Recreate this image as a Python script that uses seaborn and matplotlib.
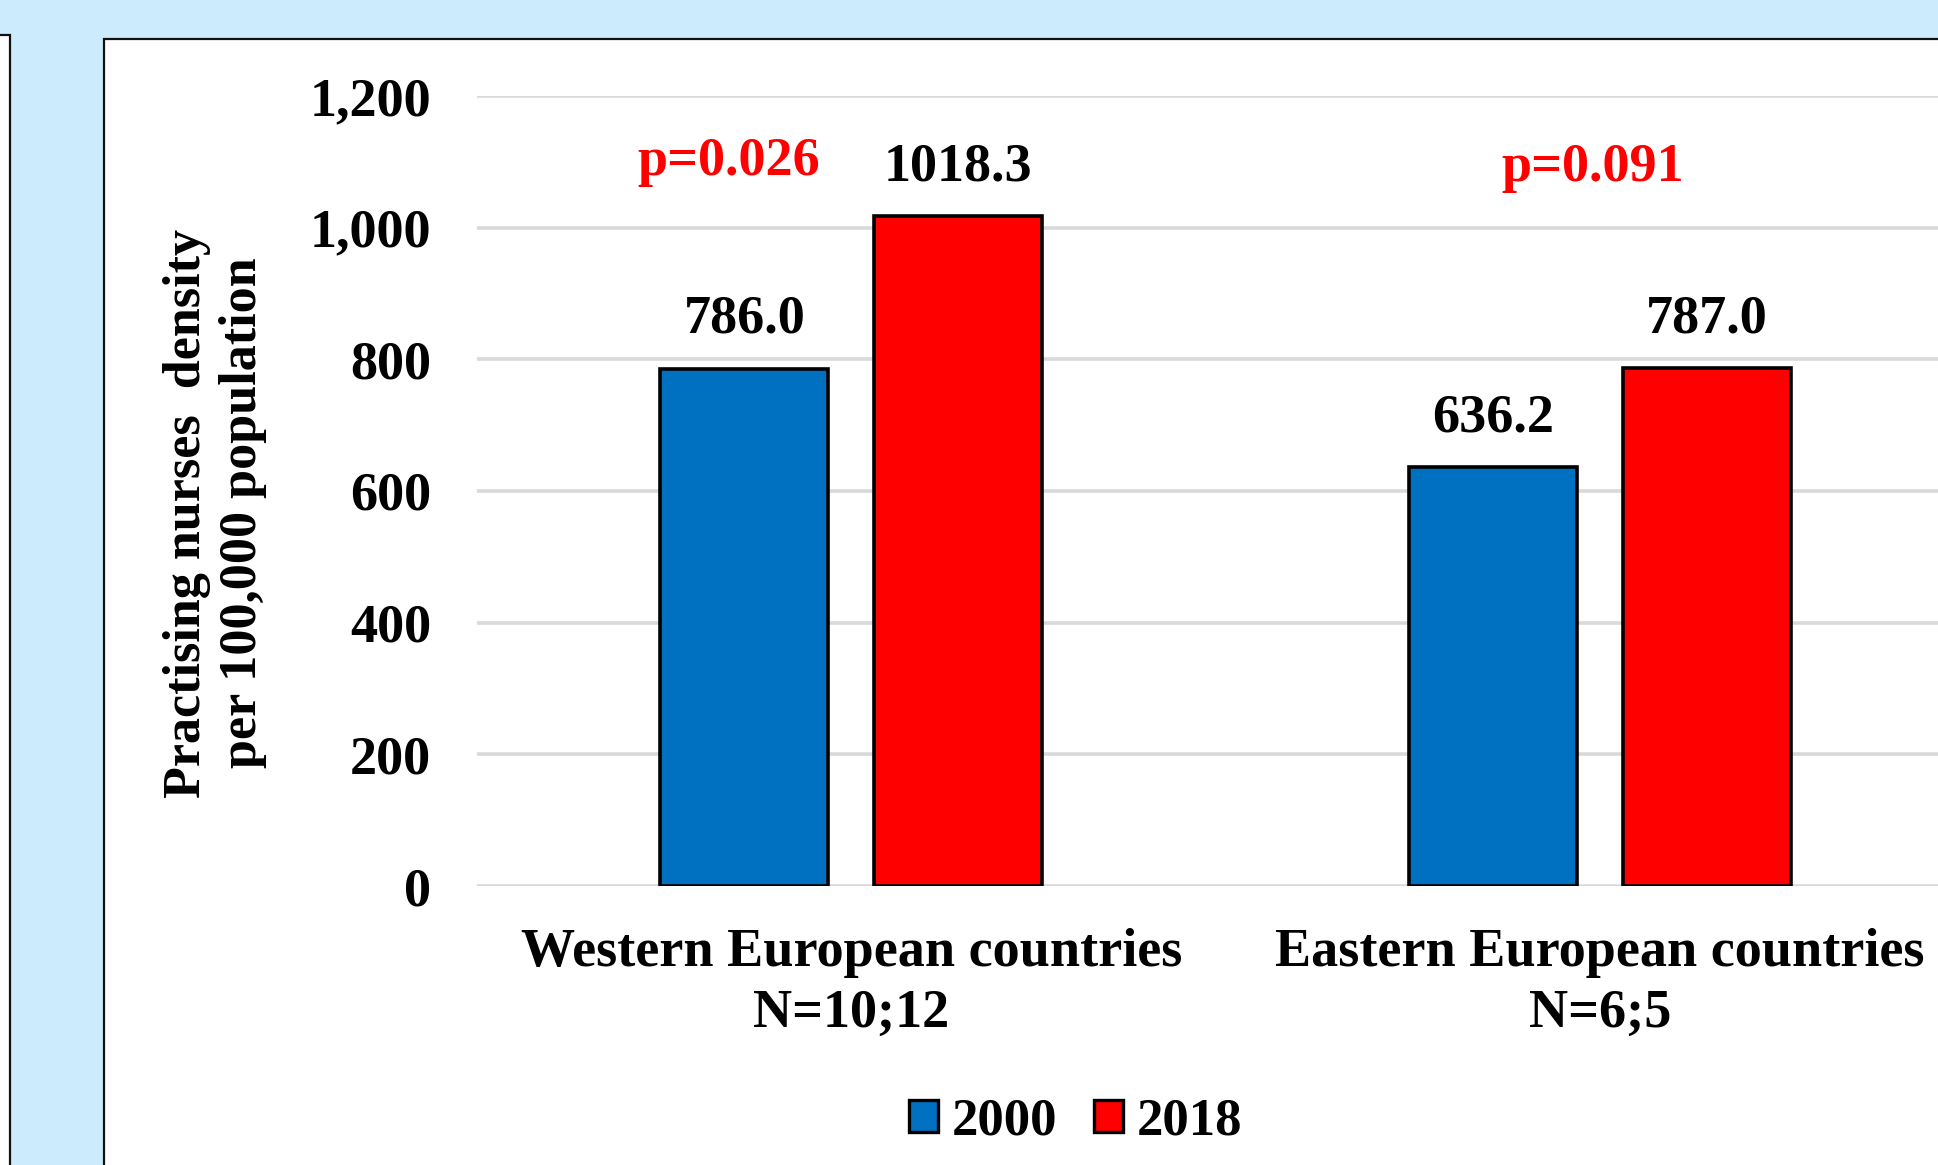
import numpy as np
import pandas as pd
import matplotlib
matplotlib.use("Agg")
import matplotlib.pyplot as plt
from matplotlib.patches import Rectangle, Patch
from matplotlib.ticker import FuncFormatter
import seaborn as sns

# ---- data ----
regions = ["Western European countries", "Eastern European countries"]
n_labels = ["N=10;12", "N=6;5"]
years = ["2000", "2018"]
values_2000 = [786.0, 636.2]
values_2018 = [1018.3, 787.0]
p_values = ["p=0.026", "p=0.091"]
y_ticks = [0, 200, 400, 600, 800, 1000, 1200]

colors = {"2000": "#0070C0", "2018": "#FF0000"}

df = pd.DataFrame({
    "region": regions * 2,
    "year": [years[0]] * len(regions) + [years[1]] * len(regions),
    "value": values_2000 + values_2018,
})

sns.set_style("white")
plt.rcParams["font.family"] = ["Liberation Serif", "DejaVu Serif"]
plt.rcParams["font.weight"] = "bold"
for k in ["text.color", "axes.labelcolor", "xtick.color", "ytick.color"]:
    plt.rcParams[k] = "black"

FS = 39
fig = plt.figure(figsize=(19.38, 11.65), dpi=100)
fig.patch.set_facecolor("#CCEBFC")

# background panels
fig.add_artist(Rectangle((-0.02, -0.02), 0.02 + 10 / 1938, 0.02 + (1165 - 35) / 1165,
                         transform=fig.transFigure, facecolor="white",
                         edgecolor="#111111", linewidth=1.6, zorder=-2))
fig.add_artist(Rectangle((104 / 1938, -0.02), 1.2, 0.02 + (1165 - 39) / 1165,
                         transform=fig.transFigure, facecolor="white",
                         edgecolor="#111111", linewidth=1.6, zorder=-2))

ax = fig.add_axes([477 / 1938, (1165 - 886) / 1165, 1497 / 1938, 790 / 1165])
ax.set_facecolor("none")

sns.barplot(data=df, x="region", y="value", hue="year", order=regions,
            hue_order=years, palette=colors, saturation=1, width=0.571, gap=0.214,
            edgecolor="black", linewidth=2.6, ax=ax, legend=False,
            errorbar=None, zorder=3)

ax.set_ylim(0, 1200)
ax.set_xlim(-0.5, 1.5)
ax.set_yticks(y_ticks)
ax.yaxis.set_major_formatter(FuncFormatter(lambda v, p: f"{int(v):,}"))
ax.grid(axis="y", color="#D9D9D9", linewidth=2.6, zorder=0)
ax.set_axisbelow(True)
for s in ax.spines.values():
    s.set_visible(False)
ax.tick_params(axis="y", length=0, pad=33, labelsize=FS)
ax.tick_params(axis="x", length=0, pad=30, labelsize=FS)
ax.set_xticks(range(len(regions)))
ax.set_xticklabels([f"{r}\n{n}" for r, n in zip(regions, n_labels)],
                   fontweight="bold", linespacing=1.3)
for lab in ax.get_yticklabels():
    lab.set_fontweight("bold")
ax.set_xlabel("")

ax.set_ylabel("Practising nurses  density\nper 100,000 population",
              fontsize=37.5, fontweight="bold", linespacing=1.2)
ax.yaxis.label.set_verticalalignment("center")
ax.yaxis.set_label_coords(-0.175, 0.472)

# value labels
for cont in ax.containers:
    ax.bar_label(cont, fmt="%.1f", padding=17, fontsize=FS, fontweight="bold")

# p-values
p_offsets = [-0.163, -0.01]
p_heights = [1100, 1090]
for i, (txt, off, h) in enumerate(zip(p_values, p_offsets, p_heights)):
    ax.text(i + off, h, txt, color="#FF0000", fontsize=FS, fontweight="bold",
            ha="center", va="center")

handles = [Patch(facecolor=colors[y], edgecolor="black", linewidth=2.4) for y in years]
fig.legend(handles, years, loc="center", bbox_to_anchor=(0.555, 0.037), ncol=2,
           frameon=False, handlelength=0.55, handleheight=0.55,
           handletextpad=0.25, columnspacing=0.7,
           prop={"weight": "bold", "size": 38})

fig.savefig("out.png", dpi=100, facecolor=fig.get_facecolor())
